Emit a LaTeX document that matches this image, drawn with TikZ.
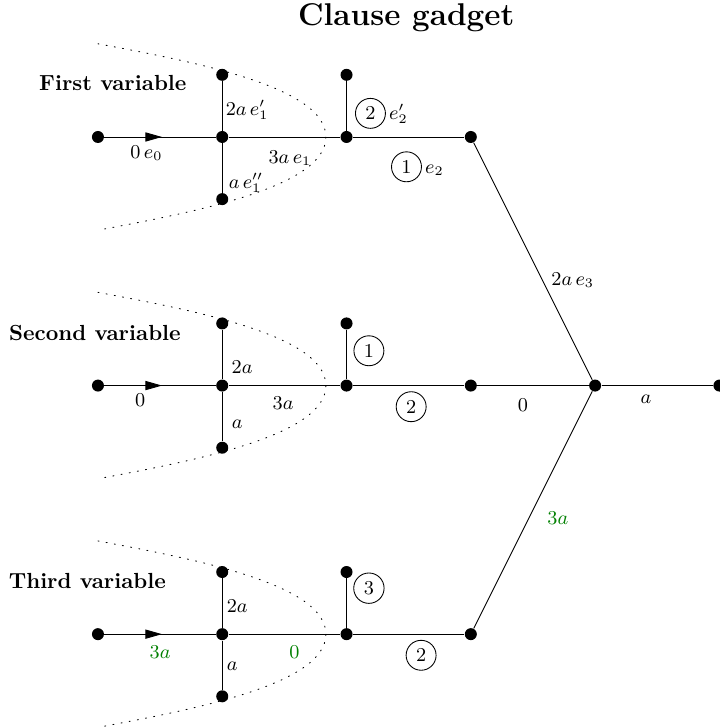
\documentclass[tikz,border=0pt]{standalone}
\usetikzlibrary{arrows.meta,decorations.markings}
\tikzset{
  dot/.style={circle,fill,inner sep=0pt,minimum size=5.5pt},
  lbl/.style={font=\small,inner sep=0pt},
  grn/.style={lbl,text=green!50!black},
  ttl/.style={font=\bfseries},
  curve/.style={dash pattern=on 0.5pt off 3.3pt,line cap=round},
  arr/.style={postaction={decorate},decoration={markings,
      mark=at position 0.517 with {\arrow{Triangle[length=7.6pt,width=4.2pt]}}}}
}
\newcommand{\cnum}[1]{\tikz[baseline=(cn.base)]\node[circle,draw,inner sep=2.2pt](cn){#1};}
\begin{document}
\begin{tikzpicture}[x=2cm,y=2cm]
\useasboundingbox (-0.788,-4.747) rectangle (5.004,1.102);
\node[ttl,font=\Large\bfseries,anchor=base] (title) at (2.48,0.893) {Clause gadget};
% row labels
\node[ttl] (l1) at (0.12,0.435) {First variable};
\node[ttl] (l2) at (-0.024,-1.58) {Second variable};
\node[ttl] (l3) at (-0.085,-3.57) {Third variable};
% ---------- row 1 ----------
\node[dot] (a0) at (0,0) {};
\node[dot] (a1) at (1,0) {};
\node[dot] (a2) at (2,0) {};
\node[dot] (a3) at (3,0) {};
\node[dot] (a1t) at (1,0.5) {};
\node[dot] (a1b) at (1,-0.5) {};
\node[dot] (a2t) at (2,0.5) {};
% ---------- row 2 ----------
\node[dot] (b0) at (0,-2) {};
\node[dot] (b1) at (1,-2) {};
\node[dot] (b2) at (2,-2) {};
\node[dot] (b3) at (3,-2) {};
\node[dot] (b4) at (4,-2) {};
\node[dot] (b5) at (5,-2) {};
\node[dot] (b1t) at (1,-1.5) {};
\node[dot] (b1b) at (1,-2.5) {};
\node[dot] (b2t) at (2,-1.5) {};
% ---------- row 3 ----------
\node[dot] (c0) at (0,-4) {};
\node[dot] (c1) at (1,-4) {};
\node[dot] (c2) at (2,-4) {};
\node[dot] (c3) at (3,-4) {};
\node[dot] (c1t) at (1,-3.5) {};
\node[dot] (c1b) at (1,-4.5) {};
\node[dot] (c2t) at (2,-3.5) {};
% edges
\draw[arr] (a0) -- (a1);
\draw (a1) -- (a2) -- (a3);
\draw (a1t) -- (a1) -- (a1b);
\draw (a2t) -- (a2);
\draw[arr] (b0) -- (b1);
\draw (b1) -- (b2) -- (b3) -- (b4) -- (b5);
\draw (b1t) -- (b1) -- (b1b);
\draw (b2t) -- (b2);
\draw[arr] (c0) -- (c1);
\draw (c1) -- (c2) -- (c3);
\draw (c1t) -- (c1) -- (c1b);
\draw (c2t) -- (c2);
\draw (a3) -- (b4);
\draw (c3) -- (b4);
% dotted curves
\foreach \r in {0,-2,-4}{
  \draw[curve] (0,\r+0.75) .. controls (0.8,\r+0.6) and (1.834,\r+0.4) .. (1.834,\r)
               .. controls (1.834,\r-0.4) and (0.8,\r-0.6) .. (0,\r-0.75);
}
% labels row 1
\node[lbl] (t01) at (0.39,-0.13) {$0\,e_0$};
\node[lbl] (t1t) at (1.2,0.22) {$2a\,e'_1$};
\node[lbl] (t1b) at (1.19,-0.37) {$a\,e''_1$};
\node[lbl] (t12) at (1.545,-0.17) {$3a\,e_1$};
\node[lbl] (t2t) at (2.28,0.19) {\cnum{2}\,$e'_2$};
\node[lbl] (t23) at (2.57,-0.24) {\cnum{1}\,$e_2$};
\node[lbl] (t34) at (3.82,-1.15) {$2a\,e_3$};
% labels row 2
\node[lbl] (u01) at (0.34,-2.116) {$0$};
\node[lbl] (u1t) at (1.16,-1.85) {$2a$};
\node[lbl] (u1b) at (1.12,-2.31) {$a$};
\node[lbl] (u12) at (1.49,-2.14) {$3a$};
\node[lbl] (u2t) at (2.18,-1.72) {\cnum{1}};
\node[lbl] (u23) at (2.52,-2.17) {\cnum{2}};
\node[lbl] (u34) at (3.42,-2.16) {$0$};
\node[lbl] (u45) at (4.41,-2.11) {$a$};
% labels row 3
\node[grn] (v01) at (0.5,-4.145) {$3a$};
\node[lbl] (v1t) at (1.12,-3.775) {$2a$};
\node[lbl] (v1b) at (1.08,-4.26) {$a$};
\node[grn] (v12) at (1.58,-4.145) {$0$};
\node[lbl] (v2t) at (2.18,-3.63) {\cnum{3}};
\node[lbl] (v23) at (2.6,-4.17) {\cnum{2}};
\node[grn] (v34) at (3.70,-3.07) {$3a$};
\end{tikzpicture}
\end{document}
